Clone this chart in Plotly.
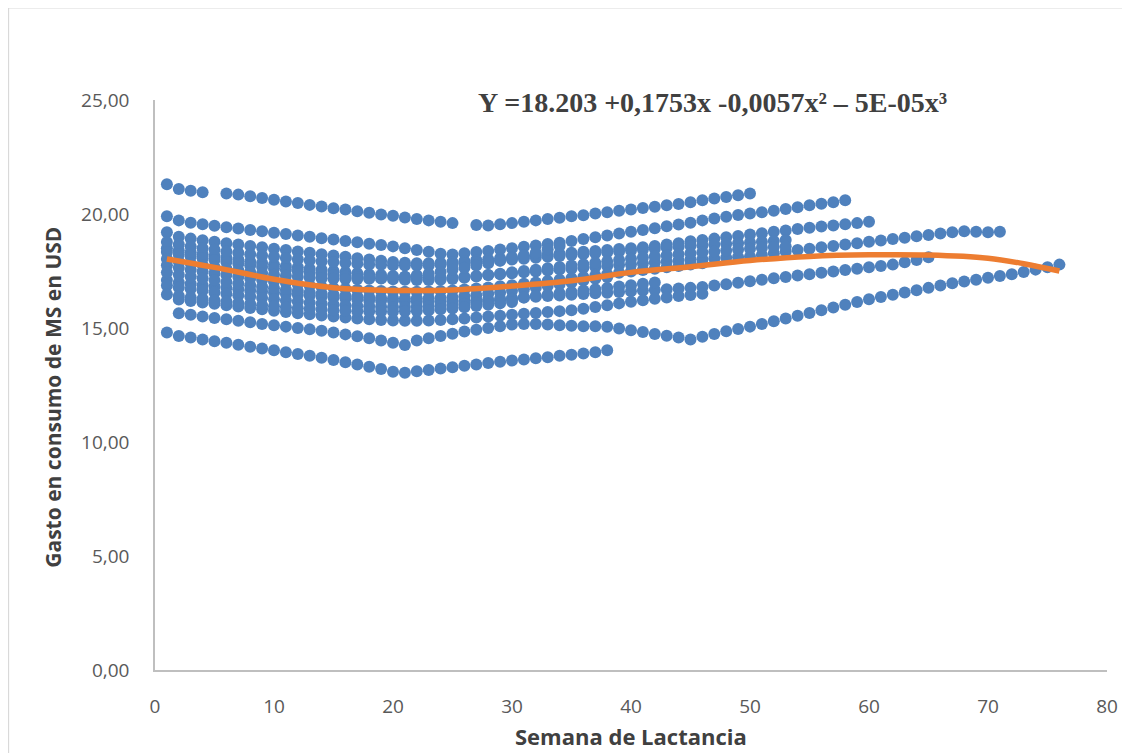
import plotly.graph_objects as go

# ---------------- data ----------------
# each cow: first week + weekly values (None = missing week)
start_a = 1
cow_a = [21.30, 21.10, 21.02, 20.95, None, 20.90, 20.85, 20.78, 20.70, 20.62,
         20.55, 20.48, 20.40, 20.33, 20.25, 20.20, 20.12, 20.05, 19.98, 19.92,
         19.85, 19.78, 19.72, 19.66, 19.60, None, 19.52, 19.50, 19.55, 19.60,
         19.66, 19.72, 19.78, 19.84, 19.90, 19.95, 20.02, 20.08, 20.14, 20.20,
         20.26, 20.32, 20.38, 20.44, 20.52, 20.60, 20.68, 20.75, 20.82, 20.90]

start_b = 1
cow_b = [19.90, 19.72, 19.62, 19.55, 19.48, 19.42, 19.36, 19.30, 19.24, 19.18,
         19.12, 19.06, 19.00, 18.94, 18.88, 18.82, 18.76, 18.70, 18.64, 18.58,
         18.50, 18.42, 18.34, 18.26, 18.22, 18.28, 18.33, 18.38, 18.44, 18.50,
         18.56, 18.62, 18.68, 18.74, 18.82, 18.90, 18.98, 19.06, 19.14, 19.22,
         19.30, 19.38, 19.46, 19.54, 19.62, 19.72, 19.80, 19.88, 19.96, 20.02,
         20.08, 20.14, 20.22, 20.30, 20.38, 20.45, 20.52, 20.60]

start_c = 1
cow_c = [19.20, 19.00, 18.92, 18.85, 18.78, 18.72, 18.66, 18.60, 18.54, 18.48,
         18.42, 18.36, 18.30, 18.24, 18.18, 18.12, 18.06, 18.00, 17.95, 17.90,
         17.86, 17.84, 17.84, 17.86, 17.90, 17.94, 17.98, 18.02, 18.06, 18.10,
         18.14, 18.18, 18.22, 18.26, 18.30, 18.34, 18.38, 18.42, 18.46, 18.50,
         18.54, 18.60, 18.66, 18.72, 18.80, 18.86, 18.92, 18.98, 19.04, 19.10,
         19.16, 19.22, 19.28, 19.34, 19.40, 19.45, 19.50, 19.55, 19.60, 19.66]

start_d = 1
cow_d = [18.50, 18.40, 18.32, 18.24, 18.16, 18.08, 18.00, 17.92, 17.85, 17.78,
         17.72, 17.66, 17.60, 17.55, 17.50, 17.45, 17.40, 17.36, 17.32, 17.28,
         17.25, 17.22, 17.20, 17.20, 17.22, 17.25, 17.28, 17.32, 17.36, 17.40,
         17.44, 17.48, 17.52, 17.56, 17.60, 17.64, 17.68, 17.72, 17.76, 17.80,
         17.84, 17.88, 17.92, 17.96, 18.00, 18.02, 18.05, 18.08, 18.10, 18.12,
         18.20, 18.28, 18.36, 18.42, 18.48, 18.54, 18.60, 18.66, 18.72, 18.78,
         18.84, 18.90, 18.96, 19.02, 19.08, 19.14, 19.20, 19.24, 19.22, 19.20,
         19.22]

start_e = 1
cow_e = [17.10, 17.00, 16.94, 16.88, 16.82, 16.76, 16.70, 16.65, 16.60, 16.55,
         16.50, 16.46, 16.42, 16.38, 16.34, 16.30, 16.26, 16.22, 16.20, 16.18,
         16.16, 16.15, 16.15, 16.16, 16.18, 16.20, 16.22, 16.25, 16.28, 16.31,
         16.34, 16.37, 16.40, 16.43, 16.46, 16.49, 16.52, 16.55, 16.58, 16.61,
         16.64, 16.67, 16.70, 16.73, 16.76, 16.80, 16.86, 16.92, 16.98, 17.05,
         17.12, 17.18, 17.24, 17.30, 17.36, 17.42, 17.48, 17.54, 17.60, 17.66,
         17.72, 17.78, 17.88, 17.98, 18.10]

start_f = 2
cow_f = [15.65, 15.58, 15.50, 15.44, 15.38, 15.32, 15.25, 15.18, 15.12,
         15.06, 15.00, 14.94, 14.88, 14.80, 14.72, 14.64, 14.55, 14.45, 14.35,
         14.25, 14.45, 14.55, 14.65, 14.75, 14.85, 14.92, 15.00, 15.08, 15.15,
         15.18, 15.18, 15.15, 15.12, 15.10, 15.08, 15.08, 15.05, 14.98, 14.90,
         14.82, 14.74, 14.66, 14.58, 14.50, 14.62, 14.74, 14.86, 14.96, 15.06,
         15.18, 15.30, 15.42, 15.54, 15.66, 15.78, 15.90, 16.02, 16.14, 16.26,
         16.36, 16.46, 16.56, 16.66, 16.76, 16.86, 16.96, 17.04, 17.12, 17.20,
         17.28, 17.36, 17.46, 17.56, 17.66, 17.78]

start_g = 1
cow_g = [14.80, 14.65, 14.58, 14.50, 14.42, 14.35, 14.27, 14.18, 14.10, 14.02,
         13.94, 13.86, 13.78, 13.70, 13.60, 13.50, 13.40, 13.30, 13.20, 13.08,
         13.04, 13.10, 13.16, 13.22, 13.28, 13.34, 13.40, 13.46, 13.52, 13.57,
         13.62, 13.67, 13.72, 13.78, 13.83, 13.88, 13.94, 14.02]

start_h = 1
cow_h = [18.77, 18.66, 18.58, 18.50, 18.43, 18.36, 18.30, 18.24, 18.18, 18.12,
         18.07, 18.02, 17.97, 17.93, 17.89, 17.85, 17.82, 17.79, 17.77, 17.75,
         17.74, 17.74, 17.75, 17.77, 17.80, 17.84, 17.88, 17.92, 17.96, 18.00,
         18.04, 18.08, 18.12, 18.16, 18.20, 18.24, 18.28, 18.32, 18.36, 18.40,
         18.44, 18.48, 18.52, 18.56, 18.60, 18.63, 18.66, 18.69, 18.72, 18.75,
         18.78, 18.82, 18.86]

start_i = 1
cow_i = [18.33, 18.22, 18.14, 18.06, 17.98, 17.90, 17.82, 17.75, 17.68, 17.61,
         17.55, 17.49, 17.43, 17.38, 17.33, 17.28, 17.24, 17.20, 17.17, 17.14,
         17.12, 17.11, 17.11, 17.12, 17.15, 17.20, 17.26, 17.32, 17.38, 17.44,
         17.50, 17.56, 17.62, 17.68, 17.74, 17.80, 17.86, 17.92, 17.98, 18.04,
         18.09, 18.14, 18.19, 18.24, 18.28, 18.32, 18.36, 18.40, 18.44, 18.48,
         18.52, 18.55, 18.58]

start_j = 1
cow_j = [18.03, 17.92, 17.84, 17.76, 17.68, 17.60, 17.53, 17.46, 17.40, 17.34,
         17.29, 17.25, 17.21, 17.18, 17.16, 17.15, 17.15, 17.16, 17.18, 17.21,
         17.25, 17.31, 17.38, 17.46, 17.55, 17.64, 17.74, 17.84, 17.95, 18.06,
         18.18, 18.30, 18.45, 18.60]

start_k = 1
cow_k = [17.75, 17.64, 17.56, 17.48, 17.40, 17.32, 17.25, 17.18, 17.11, 17.04,
         16.98, 16.92, 16.86, 16.81, 16.76, 16.72, 16.68, 16.65, 16.62, 16.60,
         16.59, 16.59, 16.60, 16.62, 16.65, 16.69, 16.73, 16.78, 16.83, 16.88,
         16.94, 17.00, 17.06, 17.12, 17.18, 17.24, 17.30, 17.36, 17.42, 17.48,
         17.54, 17.60, 17.66, 17.72, 17.78, 17.84]

start_l = 1
cow_l = [17.44, 17.34, 17.26, 17.18, 17.10, 17.02, 16.95, 16.88, 16.81, 16.74,
         16.68, 16.62, 16.56, 16.51, 16.46, 16.42, 16.38, 16.35, 16.32, 16.30,
         16.29, 16.29, 16.30, 16.32, 16.35, 16.39, 16.44, 16.50, 16.56, 16.63,
         16.70, 16.77, 16.84, 16.92, 17.00, 17.08, 17.16, 17.24]

start_m = 2
cow_m = [16.25, 16.18, 16.12, 16.06, 16.00, 15.94, 15.88, 15.82, 15.76,
         15.70, 15.65, 15.60, 15.55, 15.50, 15.46, 15.42, 15.38, 15.35, 15.33,
         15.32, 15.32, 15.33, 15.35, 15.38, 15.42, 15.46, 15.50, 15.54, 15.58,
         15.62, 15.66, 15.70, 15.74, 15.78, 15.84, 15.92, 16.00, 16.08, 16.15,
         16.22, 16.28, 16.34, 16.40, 16.45, 16.50]

start_n = 1
cow_n = [16.86, 16.78, 16.71, 16.64, 16.57, 16.50, 16.44, 16.38, 16.32, 16.26,
         16.21, 16.16, 16.11, 16.07, 16.03, 16.00, 15.97, 15.95, 15.93, 15.92,
         15.92, 15.93, 15.95, 15.98, 16.02, 16.06, 16.11, 16.16, 16.22, 16.28,
         16.34, 16.40, 16.46, 16.52, 16.58, 16.64, 16.70, 16.76, 16.82, 16.88,
         16.94, 17.00]

start_o = 1
cow_o = [16.47, 16.40, 16.34, 16.28, 16.22, 16.16, 16.10, 16.05, 16.00, 15.95,
         15.91, 15.87, 15.84, 15.81, 15.78, 15.76, 15.74, 15.73, 15.72, 15.72,
         15.73, 15.75, 15.78, 15.82, 15.86, 15.91, 15.96, 16.02, 16.08, 16.14]

# polynomial trend line
trend_weeks = [1, 5, 10, 15, 20, 25, 30, 35, 40, 45, 50, 55, 60, 65, 70, 73, 76]
trend_vals = [18.03, 17.66, 17.14, 16.77, 16.65, 16.67, 16.84, 17.07, 17.44,
              17.69, 17.96, 18.14, 18.21, 18.20, 18.06, 17.82, 17.50]

x_ticks = [0, 10, 20, 30, 40, 50, 60, 70, 80]
y_ticks = [0, 5, 10, 15, 20, 25]

equation = "Y =18.203 +0,1753x -0,0057x² – 5E-05x³"
x_title = "Semana de Lactancia"
y_title = "Gasto en consumo de MS en USD"

cows = [(start_a, cow_a), (start_b, cow_b), (start_c, cow_c), (start_d, cow_d),
        (start_e, cow_e), (start_f, cow_f), (start_g, cow_g), (start_h, cow_h),
        (start_i, cow_i), (start_j, cow_j), (start_k, cow_k), (start_l, cow_l),
        (start_m, cow_m), (start_n, cow_n), (start_o, cow_o)]

# ---------------- figure ----------------
DOT = "#4F81BD"
fig = go.Figure()
for s, vals in cows:
    fig.add_trace(go.Scatter(
        x=list(range(s, s + len(vals))), y=vals, mode="markers",
        marker=dict(size=12, color=DOT, line=dict(width=0)),
        showlegend=False, hoverinfo="x+y"))

fig.add_trace(go.Scatter(
    x=trend_weeks, y=trend_vals, mode="lines",
    line=dict(color="#ED7D31", width=5.5, shape="spline", smoothing=1.0),
    showlegend=False))

TICKFONT = dict(family="Open Sans, Roboto, sans-serif", size=19, color="#595959")
fig.update_layout(
    width=1122, height=745,
    margin=dict(l=147, r=17, t=92, b=83),
    paper_bgcolor="white", plot_bgcolor="white",
    separators=",.",
    xaxis=dict(range=[0, 80], tickvals=x_ticks, showgrid=False, zeroline=False,
               showline=True, linecolor="#BFBFBF", linewidth=1.5,
               ticks="", tickfont=TICKFONT, ticklabelstandoff=18),
    yaxis=dict(range=[0, 25], tickvals=y_ticks, tickformat=".2f", showgrid=False,
               zeroline=False, showline=True, linecolor="#BFBFBF", linewidth=1.5,
               ticks="", tickfont=TICKFONT, ticklabelstandoff=20),
    annotations=[
        dict(text="<b>" + equation + "</b>", xref="paper", yref="paper",
             x=0.586, y=0.995, xanchor="center", yanchor="middle", showarrow=False,
             font=dict(family="Liberation Serif, Times New Roman, serif",
                       size=28, color="#404040")),
        dict(text="<b>" + x_title + "</b>", xref="paper", yref="paper",
             x=0.5, y=-0.115, xanchor="center", yanchor="middle", showarrow=False,
             font=dict(family="Open Sans, Roboto, sans-serif", size=22, color="#404040")),
        dict(text="<b>" + y_title + "</b>", xref="paper", yref="paper",
             x=-0.108, y=0.478, xanchor="center", yanchor="middle", showarrow=False,
             textangle=-90,
             font=dict(family="Open Sans, Roboto, sans-serif", size=21, color="#404040")),
    ],
    shapes=[dict(type="rect", xref="paper", yref="paper",
                 x0=-0.154, x1=1.02, y0=-0.1566, y1=1.162,
                 line=dict(color="#D9D9D9", width=1.5), fillcolor="rgba(0,0,0,0)",
                 layer="below")],
)

fig.write_html("out.html")
